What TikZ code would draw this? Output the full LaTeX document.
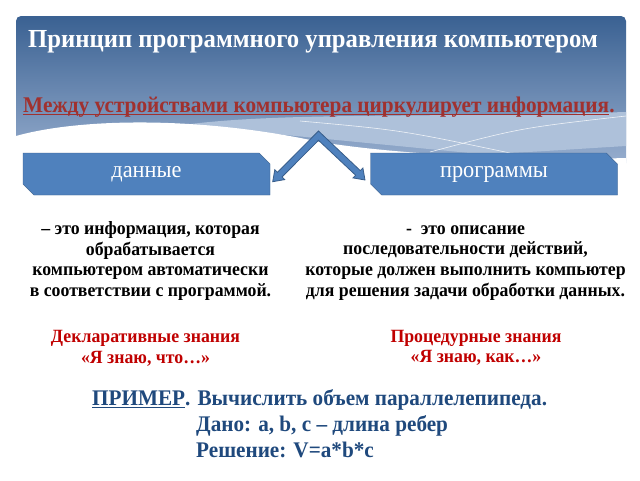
\documentclass[tikz,border=0pt]{standalone}
\usepackage{fontspec}
\setmainfont{Liberation Serif}[FakeStretch=0.95]
\usetikzlibrary{positioning, shapes.misc, calc}
\newsavebox\ulbox
\newcommand\undertext[1]{\sbox\ulbox{#1}\rlap{\rule[-0.13em]{\wd\ulbox}{0.06em}}\usebox\ulbox}
\definecolor{hdrtop}{HTML}{3A6192}
\definecolor{hdrbot}{HTML}{9AB0D0}
\definecolor{hdrpale}{HTML}{AEC1DA}
\definecolor{boxfill}{HTML}{4F81BD}
\definecolor{boxline}{HTML}{385D8A}
\definecolor{leadred}{HTML}{A0312F}
\definecolor{knowred}{HTML}{C00000}
\definecolor{exblue}{HTML}{1F497D}
\tikzset{
	infobox/.style={chamfered rectangle, chamfered rectangle corners={north east, south west},
		chamfered rectangle xsep=8pt, draw=boxline, fill=boxfill, minimum width=247pt,
		minimum height=42pt, text=white, font=\fontsize{23.5}{26}\selectfont, inner sep=0pt},
	titletext/.style={text=white, font=\fontsize{26}{30}\selectfont\bfseries, inner sep=0pt},
	leadtext/.style={text=leadred, font=\fontsize{22.4}{26}\selectfont\bfseries, inner sep=0pt},
	desctext/.style={align=center, font=\fontsize{18.7}{20.7}\selectfont\bfseries, inner sep=0pt,
		execute at begin node=\strut},
	knowtext/.style={desctext, text=knowred},
	extext/.style={text=exblue, font=\fontsize{22.3}{26}\selectfont\bfseries, inner sep=0pt}
}
\begin{document}
\begin{tikzpicture}[x=1pt, y=-1pt, node distance=27pt,
		blockarrow/.style={fill=boxfill, draw=boxline, line width=0.8pt, line join=miter}]
	\useasboundingbox (0,0) rectangle (640,480);
	\fill[white] (0,0) rectangle (640,480);
	% header band
	\shade[top color=hdrtop, bottom color=hdrbot, rounded corners=5pt]
		(16,168) -- (16,16) -- (626,16) -- (626,168) -- cycle;
	\fill[hdrpale] (183,125) .. controls (280,112) and (420,118) .. (626,112)
		-- (626,146) .. controls (560,150) and (520,153) .. (480,154) -- cycle;
	\draw[white, line width=0.6pt, opacity=0.8] (300,121) .. controls (400,130) .. (510,153);
	\draw[white, line width=0.6pt, opacity=0.8] (430,152) .. controls (520,128) .. (626,116);
	\fill[white] (16,136) .. controls (80,118) and (200,116) .. (320,142)
		.. controls (420,158) and (560,160) .. (626,158) -- (627,172) -- (15,172) -- cycle;
	\node[titletext, anchor=base west] (title) at (28,47) {Принцип программного управления компьютером};
	\node[leadtext, anchor=base west] (lead) at (23,112)
		{\undertext{Между устройствами компьютера циркулирует информация}.};
	% two kinds of information
	\node[infobox] (data) at (146.5,174) {данные};
	\node[infobox] (progs) at (494,174) {программы};
	\draw[blockarrow] (318.5,131) -- (360.3,170.6) -- (362.9,168.0) -- (365,180)
		-- (353.0,177.9) -- (355.6,175.2) -- (318.5,140.3) -- (282.1,176.9) -- (284.7,179.6)
		-- (272.7,181.7) -- (274.8,169.7) -- (277.5,172.3) -- cycle;
	\node[desctext, below=26pt of data, xshift=4pt] (datadesc) {– это информация, которая\\обрабатывается\\компьютером автоматически\\в соответствии с программой.};
	\node[desctext, below=30pt of progs, xshift=-28.5pt] (progdesc) {-\ \ это описание\\последовательности действий,\\которые должен выполнить компьютер\\для решения задачи обработки данных.};
	\node[knowtext, below=of datadesc, xshift=-5pt] (decl) {Декларативные знания\\«Я знаю, что…»};
	\node[knowtext, below=of progdesc, xshift=10.5pt] (proc) {Процедурные знания\\«Я знаю, как…»};
	% example
	\node[extext, anchor=base west] (ex) at (92,405) {\undertext{ПРИМЕР}. Вычислить объем параллелепипеда.};
	\node[extext, anchor=base west] (given) at (196,431) {Дано: a, b, c – длина ребер};
	\node[extext, anchor=base west] (sol) at (196,457) {Решение: V=a*b*c};
\end{tikzpicture}
\end{document}
